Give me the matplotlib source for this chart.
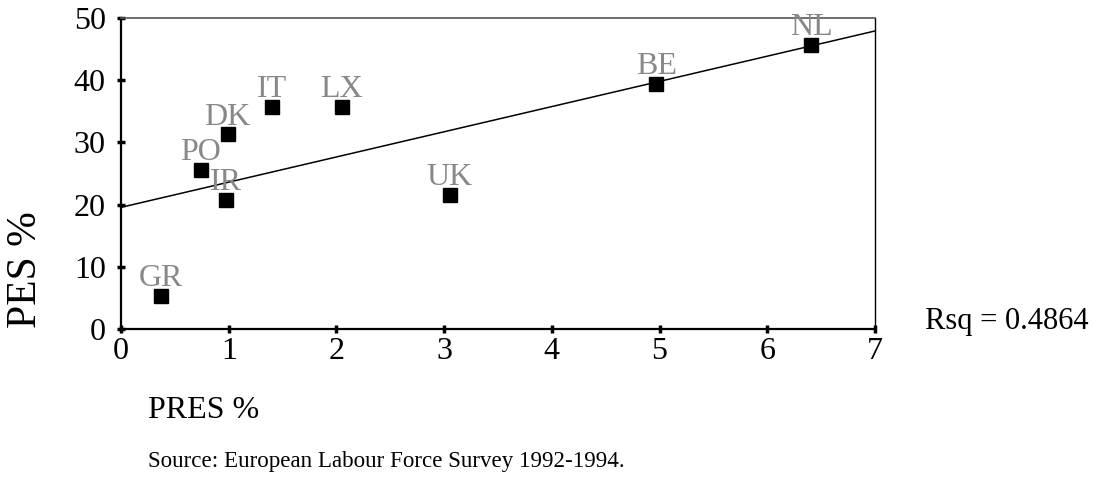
import matplotlib.pyplot as plt
import numpy as np

plt.rcParams['font.family'] = ['Liberation Serif', 'DejaVu Serif']

countries = ['GR', 'PO', 'IR', 'DK', 'IT', 'LX', 'UK', 'BE', 'NL']
pres = [0.37, 0.74, 0.975, 0.99, 1.40, 2.05, 3.05, 4.97, 6.41]
pes = [5.3, 25.6, 20.7, 31.3, 35.7, 35.7, 21.5, 39.4, 45.7]
x_ticks = [0, 1, 2, 3, 4, 5, 6, 7]
y_ticks = [0, 10, 20, 30, 40, 50]

my_dpi = 100
fig = plt.figure(figsize=(1104/my_dpi, 493/my_dpi), dpi=my_dpi)
ax = fig.add_axes([121/1104, 1 - 329/493, (875-121)/1104, (329-18)/493])

# fit line
slope, icpt = np.polyfit(pres, pes, 1)
xl = np.array([0, 7])
ax.plot(xl, icpt + slope*xl, color='black', lw=1.1, zorder=2)

ax.plot(pres, pes, 's', color='black', markersize=9.5, zorder=3, clip_on=False)
for c, xv, yv in zip(countries, pres, pes):
    ax.annotate(c, (xv, yv), xytext=(0, 2), textcoords='offset points',
                ha='center', va='bottom', fontsize=23, color='#888888')

ax.set_xlim(0, 7)
ax.set_ylim(0, 50)
ax.set_xticks(x_ticks)
ax.set_yticks(y_ticks)
ax.tick_params(direction='inout', length=6, width=2.5, labelsize=23)
ax.tick_params(axis='y', pad=8)
ax.tick_params(axis='x', pad=3)
ax.spines['left'].set_linewidth(1.6)
ax.spines['bottom'].set_linewidth(1.6)
ax.spines['top'].set_linewidth(1.2)
ax.spines['top'].set_color('#555555')
ax.spines['right'].set_linewidth(1.0)

fig.text(26/1104, 1 - 270/493, 'PES %', rotation=90, fontsize=30,
         ha='center', va='center')
fig.text(148/1104, 1 - 410/493, 'PRES %', fontsize=23, ha='left', va='center')
fig.text(148/1104, 1 - 462/493, 'Source: European Labour Force Survey 1992-1994.',
         fontsize=16.6, ha='left', va='center')
fig.text(925/1104, 1 - 322/493, 'Rsq = 0.4864', fontsize=22, ha='left', va='center')

plt.savefig('out.png', dpi=my_dpi)
